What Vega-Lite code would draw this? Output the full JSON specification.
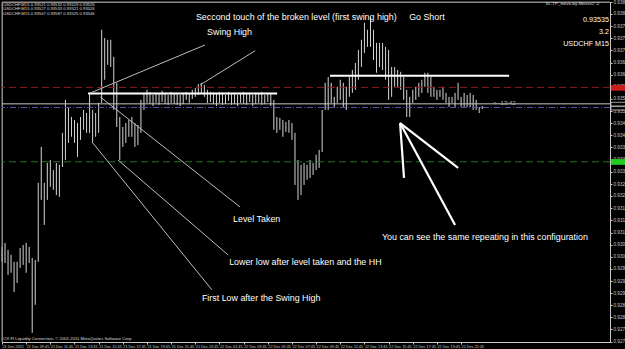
{
  "$schema": "https://vega.github.io/schema/vega-lite/v6.json",
  "width": 608,
  "height": 340,
  "autosize": {"type": "none"},
  "padding": {"left": 2, "top": 2, "right": 15, "bottom": 7},
  "background": "#000000",
  "config": {
    "view": {"stroke": "#8c8c8c", "strokeWidth": 1},
    "font": "Liberation Sans",
    "axis": {"grid": false, "title": null, "labelColor": "#c8c8c8", "tickColor": "#c8c8c8", "domainColor": "#c8c8c8", "tickSize": 2, "labelOverlap": false, "labelFlush": false, "labelBound": false, "zindex": 1}
  },
  "datasets": {
    "bars": [
      {"bar":0,"high":0.93066,"low":0.93017},{"bar":1,"high":0.93079,"low":0.93013},{"bar":2,"high":0.93056,"low":0.92974},{"bar":3,"high":0.93040,"low":0.92981},
      {"bar":4,"high":0.93017,"low":0.92918},{"bar":5,"high":0.93017,"low":0.92948},{"bar":6,"high":0.93062,"low":0.92997},{"bar":7,"high":0.93072,"low":0.93007},
      {"bar":8,"high":0.93079,"low":0.92981},{"bar":9,"high":0.93066,"low":0.93013},{"bar":10,"high":0.93030,"low":0.92784},{"bar":11,"high":0.93023,"low":0.92876},
      {"bar":12,"high":0.93276,"low":0.93017},{"bar":13,"high":0.93394,"low":0.93220},{"bar":14,"high":0.93276,"low":0.93138},{"bar":15,"high":0.93341,"low":0.93220},
      {"bar":16,"high":0.93351,"low":0.93263},{"bar":17,"high":0.93318,"low":0.93253},{"bar":18,"high":0.93341,"low":0.93236},{"bar":19,"high":0.93335,"low":0.93230},
      {"bar":20,"high":0.93440,"low":0.93328},{"bar":21,"high":0.93548,"low":0.93351},{"bar":22,"high":0.93525,"low":0.93407},{"bar":23,"high":0.93492,"low":0.93427},
      {"bar":24,"high":0.93482,"low":0.93407},{"bar":25,"high":0.93472,"low":0.93361},{"bar":26,"high":0.93492,"low":0.93417},{"bar":27,"high":0.93515,"low":0.93450},
      {"bar":28,"high":0.93505,"low":0.93440},{"bar":29,"high":0.93571,"low":0.93440},{"bar":30,"high":0.93515,"low":0.93410},{"bar":31,"high":0.93505,"low":0.93427},
      {"bar":32,"high":0.93538,"low":0.93440},{"bar":33,"high":0.93778,"low":0.93538},{"bar":34,"high":0.93751,"low":0.93614},{"bar":35,"high":0.93745,"low":0.93663},
      {"bar":36,"high":0.93745,"low":0.93656},{"bar":37,"high":0.93689,"low":0.93515},{"bar":38,"high":0.93604,"low":0.93459},{"bar":39,"high":0.93492,"low":0.93351},
      {"bar":40,"high":0.93459,"low":0.93394},{"bar":41,"high":0.93472,"low":0.93407},{"bar":42,"high":0.93482,"low":0.93427},{"bar":43,"high":0.93492,"low":0.93427},
      {"bar":44,"high":0.93472,"low":0.93394},{"bar":45,"high":0.93466,"low":0.93400},{"bar":46,"high":0.93548,"low":0.93440},{"bar":47,"high":0.93571,"low":0.93515},
      {"bar":48,"high":0.93581,"low":0.93538},{"bar":49,"high":0.93574,"low":0.93535},{"bar":50,"high":0.93564,"low":0.93528},{"bar":51,"high":0.93571,"low":0.93538},
      {"bar":52,"high":0.93568,"low":0.93532},{"bar":53,"high":0.93578,"low":0.93541},{"bar":54,"high":0.93571,"low":0.93535},{"bar":55,"high":0.93564,"low":0.93532},
      {"bar":56,"high":0.93574,"low":0.93538},{"bar":57,"high":0.93568,"low":0.93535},{"bar":58,"high":0.93571,"low":0.93532},{"bar":59,"high":0.93564,"low":0.93528},
      {"bar":60,"high":0.93571,"low":0.93535},{"bar":61,"high":0.93574,"low":0.93548},{"bar":62,"high":0.93568,"low":0.93538},{"bar":63,"high":0.93581,"low":0.93551},
      {"bar":64,"high":0.93587,"low":0.93558},{"bar":65,"high":0.93600,"low":0.93564},{"bar":66,"high":0.93604,"low":0.93571},{"bar":67,"high":0.93597,"low":0.93558},
      {"bar":68,"high":0.93581,"low":0.93538},{"bar":69,"high":0.93574,"low":0.93541},{"bar":70,"high":0.93571,"low":0.93535},{"bar":71,"high":0.93568,"low":0.93528},
      {"bar":72,"high":0.93574,"low":0.93538},{"bar":73,"high":0.93571,"low":0.93532},{"bar":74,"high":0.93564,"low":0.93535},{"bar":75,"high":0.93574,"low":0.93545},
      {"bar":76,"high":0.93568,"low":0.93532},{"bar":77,"high":0.93571,"low":0.93535},{"bar":78,"high":0.93564,"low":0.93528},{"bar":79,"high":0.93568,"low":0.93538},
      {"bar":80,"high":0.93574,"low":0.93535},{"bar":81,"high":0.93568,"low":0.93532},{"bar":82,"high":0.93571,"low":0.93541},{"bar":83,"high":0.93564,"low":0.93528},
      {"bar":84,"high":0.93571,"low":0.93535},{"bar":85,"high":0.93568,"low":0.93538},{"bar":86,"high":0.93574,"low":0.93532},{"bar":87,"high":0.93564,"low":0.93535},
      {"bar":88,"high":0.93571,"low":0.93541},{"bar":89,"high":0.93568,"low":0.93528},{"bar":90,"high":0.93548,"low":0.93450},{"bar":91,"high":0.93492,"low":0.93440},
      {"bar":92,"high":0.93489,"low":0.93450},{"bar":93,"high":0.93482,"low":0.93427},{"bar":94,"high":0.93476,"low":0.93443},{"bar":95,"high":0.93482,"low":0.93440},
      {"bar":96,"high":0.93472,"low":0.93417},{"bar":97,"high":0.93440,"low":0.93269},{"bar":98,"high":0.93351,"low":0.93220},{"bar":99,"high":0.93335,"low":0.93236},
      {"bar":100,"high":0.93341,"low":0.93269},{"bar":101,"high":0.93335,"low":0.93286},{"bar":102,"high":0.93351,"low":0.93292},{"bar":103,"high":0.93341,"low":0.93302},
      {"bar":104,"high":0.93368,"low":0.93318},{"bar":105,"high":0.93384,"low":0.93325},{"bar":106,"high":0.93515,"low":0.93377},{"bar":107,"high":0.93604,"low":0.93515},
      {"bar":108,"high":0.93623,"low":0.93515},{"bar":109,"high":0.93604,"low":0.93538},{"bar":110,"high":0.93558,"low":0.93525},{"bar":111,"high":0.93591,"low":0.93538},
      {"bar":112,"high":0.93614,"low":0.93548},{"bar":113,"high":0.93604,"low":0.93525},{"bar":114,"high":0.93591,"low":0.93515},{"bar":115,"high":0.93623,"low":0.93558},
      {"bar":116,"high":0.93646,"low":0.93571},{"bar":117,"high":0.93669,"low":0.93581},{"bar":118,"high":0.93712,"low":0.93614},{"bar":119,"high":0.93745,"low":0.93656},
      {"bar":120,"high":0.93801,"low":0.93702},{"bar":121,"high":0.93778,"low":0.93722},{"bar":122,"high":0.93820,"low":0.93722},{"bar":123,"high":0.93778,"low":0.93679},
      {"bar":124,"high":0.93735,"low":0.93637},{"bar":125,"high":0.93735,"low":0.93656},{"bar":126,"high":0.93735,"low":0.93646},{"bar":127,"high":0.93722,"low":0.93614},
      {"bar":128,"high":0.93712,"low":0.93548},{"bar":129,"high":0.93656,"low":0.93558},{"bar":130,"high":0.93656,"low":0.93591},{"bar":131,"high":0.93646,"low":0.93591},
      {"bar":132,"high":0.93640,"low":0.93581},{"bar":133,"high":0.93623,"low":0.93548},{"bar":134,"high":0.93581,"low":0.93492},{"bar":135,"high":0.93558,"low":0.93492},
      {"bar":136,"high":0.93581,"low":0.93538},{"bar":137,"high":0.93591,"low":0.93548},{"bar":138,"high":0.93604,"low":0.93558},{"bar":139,"high":0.93614,"low":0.93571},
      {"bar":140,"high":0.93637,"low":0.93591},{"bar":141,"high":0.93637,"low":0.93571},{"bar":142,"high":0.93623,"low":0.93558},{"bar":143,"high":0.93591,"low":0.93558},
      {"bar":144,"high":0.93581,"low":0.93548},{"bar":145,"high":0.93581,"low":0.93558},{"bar":146,"high":0.93591,"low":0.93548},{"bar":147,"high":0.93571,"low":0.93538},
      {"bar":148,"high":0.93558,"low":0.93525},{"bar":149,"high":0.93558,"low":0.93538},{"bar":150,"high":0.93571,"low":0.93525},{"bar":151,"high":0.93604,"low":0.93548},
      {"bar":152,"high":0.93558,"low":0.93525},{"bar":153,"high":0.93571,"low":0.93525},{"bar":154,"high":0.93564,"low":0.93525},{"bar":155,"high":0.93571,"low":0.93525},
      {"bar":156,"high":0.93564,"low":0.93515},{"bar":157,"high":0.93548,"low":0.93515},{"bar":158,"high":0.93525,"low":0.93505},{"bar":159,"high":0.93528,"low":0.93518}
    ]
  },
  "layer": [
    {
      "data": {"name": "bars"},
      "mark": {"type": "rule", "color": "#d4d4d4", "strokeWidth": 1},
      "encoding": {
        "x": {"field": "bar", "type": "quantitative", "title": null,
          "scale": {"domain": [0, 201.3], "nice": false, "zero": false},
          "axis": {"orient": "bottom", "tickCount": 200,
            "values": [0,8,16,24,32,40,48,56,64,72,80,88,96,104,112,120,128,136,144,152],
            "labelExpr": "datum.value == 0 ? '21 Dec 2011' : timeFormat(datetime(2011, 11, 21, 7, 45 + datum.value * 15), '%d %b %H:%M')",
            "labelFontSize": 3.8, "labelAlign": "left", "labelBaseline": "top", "labelPadding": 0.5, "labelOverlap": false, "labelSeparation": 0}},
        "y": {"field": "high", "type": "quantitative", "title": null,
          "scale": {"domain": [0.92754, 0.93869], "nice": false, "zero": false},
          "axis": {"orient": "right", "tickCount": 200,
            "values": [0.92755,0.92795,0.92835,0.92874,0.92914,0.92954,0.92994,0.93034,0.93073,0.93113,0.93153,0.93193,0.93233,0.93272,0.93312,0.93352,0.93392,0.93432,0.93471,0.93511,0.93551,0.93591,0.93631,0.93670,0.93710,0.93750,0.93790,0.93830,0.93869],
            "format": ".5f", "labelFontSize": 4.6, "labelPadding": 1, "labelOverlap": false, "labelSeparation": 0}},
        "y2": {"field": "low"}
      }
    },
    {
      "data": {"values": [{"edge": 0}]},
      "mark": {"type": "rule", "color": "#8c8c8c", "strokeWidth": 1},
      "encoding": {"x": {"field": "edge", "type": "quantitative", "title": null}}
    },
    {
      "data": {"values": [{"edge": 0.93869}]},
      "mark": {"type": "rule", "color": "#8c8c8c", "strokeWidth": 1},
      "encoding": {"y": {"field": "edge", "type": "quantitative", "title": null}}
    },
    {
      "data": {"values": [{"price": 0.93589}]},
      "mark": {"type": "rule", "color": "#8e1c1c", "strokeWidth": 1, "strokeDash": [7, 4]},
      "encoding": {"y": {"field": "price", "type": "quantitative", "title": null}}
    },
    {
      "data": {"values": [{"price": 0.93345}]},
      "mark": {"type": "rule", "color": "#1c7a1c", "strokeWidth": 1, "strokeDash": [7, 4]},
      "encoding": {"y": {"field": "price", "type": "quantitative", "title": null}}
    },
    {
      "data": {"values": [{"price": 0.93535}]},
      "mark": {"type": "rule", "color": "#c8c8c8", "strokeWidth": 1},
      "encoding": {"y": {"field": "price", "type": "quantitative", "title": null}}
    },
    {
      "data": {"values": [{"price": 0.93523}]},
      "mark": {"type": "rule", "color": "#5252a8", "strokeWidth": 1, "strokeDash": [6, 2, 1, 2]},
      "encoding": {"y": {"field": "price", "type": "quantitative", "title": null}}
    },
    {
      "data": {"values": [
        {"x": 28.5, "y": 0.93569, "x2": 91.1, "y2": 0.93569},
        {"x": 108.6, "y": 0.93627, "x2": 167.9, "y2": 0.93627}
      ]},
      "mark": {"type": "rule", "color": "#ffffff", "strokeWidth": 2},
      "encoding": {
        "x": {"field": "x", "type": "quantitative", "title": null},
        "y": {"field": "y", "type": "quantitative", "title": null},
        "x2": {"field": "x2"}, "y2": {"field": "y2"}
      }
    },
    {
      "data": {"values": [
        {"x": 29.1, "y": 0.93570, "x2": 67.2, "y2": 0.93728},
        {"x": 65.6, "y": 0.93597, "x2": 83.8, "y2": 0.93709},
        {"x": 29.8, "y": 0.93410, "x2": 69.5, "y2": 0.92925},
        {"x": 38.4, "y": 0.93351, "x2": 74.8, "y2": 0.93040},
        {"x": 32.5, "y": 0.93558, "x2": 78.8, "y2": 0.93197}
      ]},
      "mark": {"type": "rule", "color": "#bdbdbd", "strokeWidth": 1},
      "encoding": {
        "x": {"field": "x", "type": "quantitative", "title": null},
        "y": {"field": "y", "type": "quantitative", "title": null},
        "x2": {"field": "x2"}, "y2": {"field": "y2"}
      }
    },
    {
      "data": {"values": [
        {"x": 131.8, "y": 0.93472, "x2": 133.1, "y2": 0.93292},
        {"x": 131.8, "y": 0.93472, "x2": 150.0, "y2": 0.93138},
        {"x": 131.8, "y": 0.93472, "x2": 151.0, "y2": 0.93325}
      ]},
      "mark": {"type": "rule", "color": "#ffffff", "strokeWidth": 2.2},
      "encoding": {
        "x": {"field": "x", "type": "quantitative", "title": null},
        "y": {"field": "y", "type": "quantitative", "title": null},
        "x2": {"field": "x2"}, "y2": {"field": "y2"}
      }
    },
    {
      "data": {"values": [
        {"x": 201.6, "y": 0.93597, "x2": 206.5, "y2": 0.93578, "kind": "ask"},
        {"x": 201.6, "y": 0.93354, "x2": 206.5, "y2": 0.93335, "kind": "level"}
      ]},
      "mark": {"type": "rect", "clip": false},
      "encoding": {
        "x": {"field": "x", "type": "quantitative", "title": null},
        "y": {"field": "y", "type": "quantitative", "title": null},
        "x2": {"field": "x2"}, "y2": {"field": "y2"},
        "color": {"field": "kind", "type": "nominal", "legend": null,
          "scale": {"domain": ["ask", "level"], "range": ["#c81e1e", "#22cc22"]}}
      }
    },
    {
      "data": {"values": [
        {"x": 201.6, "y": 0.93540, "x2": 206.5, "y2": 0.93528},
        {"x": 201.6, "y": 0.93526, "x2": 206.5, "y2": 0.93515}
      ]},
      "mark": {"type": "rect", "fill": "#000000", "stroke": "#e0e0e0", "strokeWidth": 0.7, "clip": false},
      "encoding": {
        "x": {"field": "x", "type": "quantitative", "title": null},
        "y": {"field": "y", "type": "quantitative", "title": null},
        "x2": {"field": "x2"}, "y2": {"field": "y2"}
      }
    },
    {
      "data": {"values": [
        {"x": 64.2, "y": 0.93820, "text": "Seccond touch of the broken level (first swing high)"},
        {"x": 134.8, "y": 0.93820, "text": "Go Short"},
        {"x": 67.9, "y": 0.93771, "text": "Swing High"},
        {"x": 76.5, "y": 0.93158, "text": "Level Taken"},
        {"x": 75.2, "y": 0.93017, "text": "Lower low after level taken and the HH"},
        {"x": 66.2, "y": 0.92899, "text": "First Low after the Swing High"},
        {"x": 125.8, "y": 0.93099, "text": "You can see the same repeating in this configuration"}
      ]},
      "mark": {"type": "text", "color": "#ffffff", "fontSize": 8.9, "align": "left", "baseline": "middle", "font": "Liberation Sans"},
      "encoding": {
        "x": {"field": "x", "type": "quantitative", "title": null},
        "y": {"field": "y", "type": "quantitative", "title": null},
        "text": {"field": "text"}
      }
    },
    {
      "data": {"values": [
        {"x": 201.0, "y": 0.93810, "text": "0.93535"},
        {"x": 201.0, "y": 0.93771, "text": "3.2"},
        {"x": 201.0, "y": 0.93732, "text": "USDCHF M15"}
      ]},
      "mark": {"type": "text", "color": "#ffffff", "fontSize": 7.2, "align": "right", "baseline": "middle", "font": "Liberation Sans"},
      "encoding": {
        "x": {"field": "x", "type": "quantitative", "title": null},
        "y": {"field": "y", "type": "quantitative", "title": null},
        "text": {"field": "text"}
      }
    },
    {
      "data": {"values": [
        {"x": 162.6, "y": 0.93538, "text": "<--13:42"}
      ]},
      "mark": {"type": "text", "color": "#b4b4b4", "fontSize": 6, "align": "left", "baseline": "middle", "font": "Liberation Sans"},
      "encoding": {
        "x": {"field": "x", "type": "quantitative", "title": null},
        "y": {"field": "y", "type": "quantitative", "title": null},
        "text": {"field": "text"}
      }
    },
    {
      "data": {"values": [
        {"x": 0.4, "y": 0.93859, "text": "USDCHF,M15  0.93521 0.93532 0.93519 0.93526"},
        {"x": 0.4, "y": 0.93845, "text": "USDCHF,M15  0.93527 0.93533 0.93521 0.93526"},
        {"x": 0.4, "y": 0.93831, "text": "USDCHF,M15  0.93567 0.93587 0.93525 0.93546"},
        {"x": 0.4, "y": 0.92764, "text": "OX FI Liquidity Connection, © 2001-2011 MetaQuotes Software Corp."}
      ]},
      "mark": {"type": "text", "color": "#dcdcdc", "fontSize": 4.2, "align": "left", "baseline": "middle", "font": "Liberation Sans"},
      "encoding": {
        "x": {"field": "x", "type": "quantitative", "title": null},
        "y": {"field": "y", "type": "quantitative", "title": null},
        "text": {"field": "text"}
      }
    },
    {
      "data": {"values": [
        {"x": 198.0, "y": 0.93862, "text": "SL-TP_move-by-Mouse2 ☺"}
      ]},
      "mark": {"type": "text", "color": "#dcdcdc", "fontSize": 4.4, "align": "right", "baseline": "middle", "font": "Liberation Sans"},
      "encoding": {
        "x": {"field": "x", "type": "quantitative", "title": null},
        "y": {"field": "y", "type": "quantitative", "title": null},
        "text": {"field": "text"}
      }
    }
  ]
}
